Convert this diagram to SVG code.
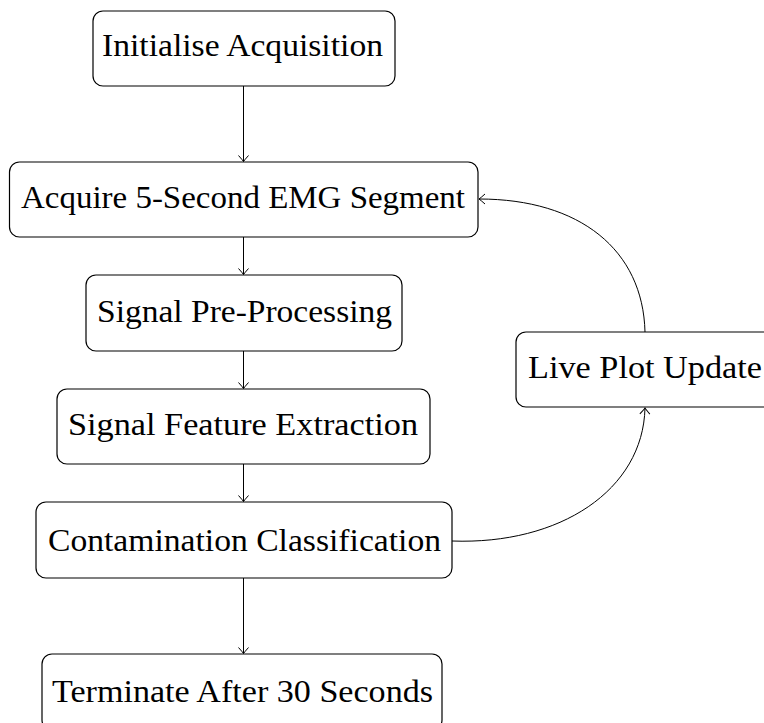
<svg xmlns="http://www.w3.org/2000/svg" width="764" height="723" viewBox="0 0 764 723">
<style>
.box{fill:#fff;stroke:#000;stroke-width:1.2}
.lbl{font-size:32px;fill:#000;text-anchor:middle}
.edge{fill:none;stroke:#000;stroke-width:1}
</style>
<defs>
<marker id="arr" markerUnits="userSpaceOnUse" markerWidth="14" markerHeight="14" viewBox="-8 -7 10 14" refX="0" refY="0" orient="auto">
<path d="M-6,-5 Q-1.5,-1 0,0 Q-1.5,1 -6,5" fill="none" stroke="#000" stroke-width="1"/>
</marker>
</defs>
<rect width="764" height="723" fill="#fff"/>
<g id="connectors">
<line class="edge" x1="243.5" y1="86" x2="243.5" y2="161.5" marker-end="url(#arr)"/>
<line class="edge" x1="243.5" y1="237" x2="243.5" y2="274.5" marker-end="url(#arr)"/>
<line class="edge" x1="243.5" y1="351" x2="243.5" y2="388.5" marker-end="url(#arr)"/>
<line class="edge" x1="243.5" y1="464" x2="243.5" y2="501.5" marker-end="url(#arr)"/>
<line class="edge" x1="243.5" y1="578" x2="243.5" y2="653.5" marker-end="url(#arr)"/>
<path class="edge" d="M452,541 C560,545 643,490 645,408" marker-end="url(#arr)"/>
<path class="edge" d="M645,332 C643,250 580,199 479,199" marker-end="url(#arr)"/>
</g>
<g font-family="'Liberation Serif', 'Times New Roman', 'DejaVu Serif', serif">
<g id="n1">
<rect class="box" x="93" y="11" width="302" height="75" rx="10"/>
<text class="lbl" x="242.5" y="56" textLength="281" lengthAdjust="spacingAndGlyphs">Initialise Acquisition</text>
</g>
<g id="n2">
<rect class="box" x="9.5" y="162" width="468.5" height="75" rx="10"/>
<text class="lbl" x="243" y="208" textLength="444" lengthAdjust="spacingAndGlyphs">Acquire 5-Second EMG Segment</text>
</g>
<g id="n3">
<rect class="box" x="86" y="275" width="316" height="76" rx="10"/>
<text class="lbl" x="244.5" y="322" textLength="295" lengthAdjust="spacingAndGlyphs">Signal Pre-Processing</text>
</g>
<g id="n4">
<rect class="box" x="57" y="389" width="373" height="75" rx="10"/>
<text class="lbl" x="243" y="435" textLength="350" lengthAdjust="spacingAndGlyphs">Signal Feature Extraction</text>
</g>
<g id="n5">
<rect class="box" x="36" y="502" width="416" height="76" rx="10"/>
<text class="lbl" x="244.5" y="551" textLength="393" lengthAdjust="spacingAndGlyphs">Contamination Classification</text>
</g>
<g id="n6">
<rect class="box" x="42" y="654" width="400" height="76" rx="10"/>
<text class="lbl" x="242.5" y="702" textLength="381" lengthAdjust="spacingAndGlyphs">Terminate After 30 Seconds</text>
</g>
<g id="n7">
<rect class="box" x="516" y="332" width="270" height="75" rx="10"/>
<text class="lbl" x="645" y="378" textLength="234" lengthAdjust="spacingAndGlyphs">Live Plot Update</text>
</g>
</g>
</svg>
